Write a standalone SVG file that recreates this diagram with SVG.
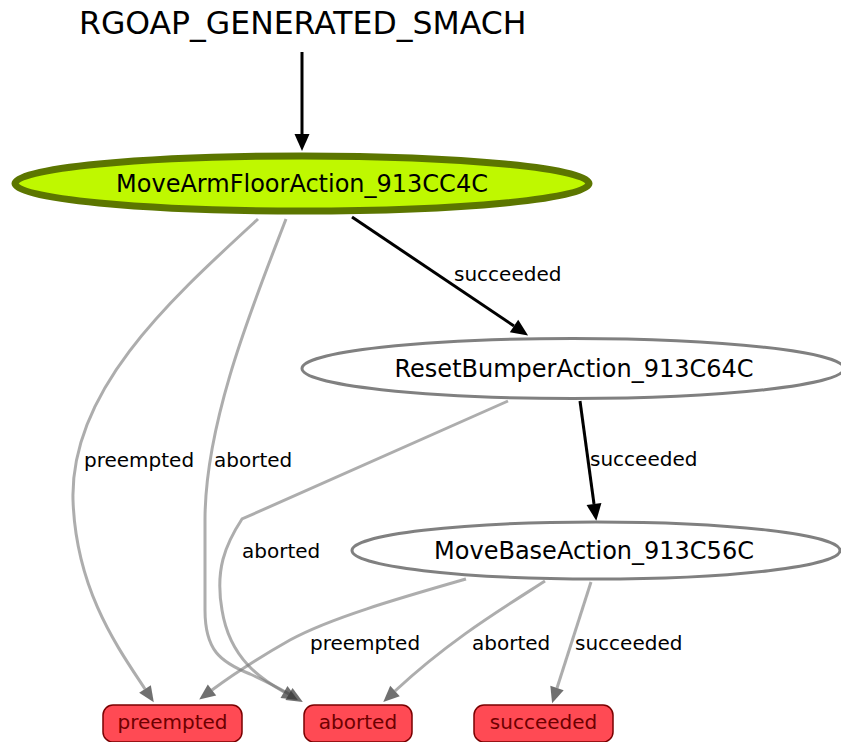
<svg xmlns="http://www.w3.org/2000/svg" width="841" height="742" viewBox="0 0 841 742">
  <style>
    text { font-family: "DejaVu Sans", "Liberation Sans", sans-serif; }
    .title { font-size: 31.5px; fill: #000; }
    .nlabel { font-size: 24px; fill: #000; text-anchor: middle; }
    .elabel { font-size: 20px; fill: #000; }
    .state { fill: #ffffff; stroke: #808080; stroke-width: 3; }
    .active { fill: #bff800; stroke: #5c7600; stroke-width: 7; }
    .outcome { fill: #ff4a54; stroke: #7a0000; stroke-width: 1.5; }
    .olabel { font-size: 20px; fill: #6e0000; text-anchor: middle; }
    .black { fill: none; stroke: #000; stroke-width: 3; marker-end: url(#headBlack); }
    .gray { fill: none; stroke: #777; stroke-opacity: 0.6; stroke-width: 3; marker-end: url(#headGray); }
  </style>
  <defs>
    <marker id="headBlack" markerUnits="userSpaceOnUse" markerWidth="20" markerHeight="20" refX="0" refY="8" orient="auto" overflow="visible">
      <path d="M0,0.5 L17,8 L0,15.5 Z" fill="#000"/>
    </marker>
    <marker id="headGray" markerUnits="userSpaceOnUse" markerWidth="18" markerHeight="18" refX="0" refY="7" orient="auto" overflow="visible">
      <path d="M0,0 L16,7 L0,14 Z" fill="#333" fill-opacity="0.7"/>
    </marker>
  </defs>

  <text class="title" x="79" y="34">RGOAP_GENERATED_SMACH</text>

  <g id="connectors">
    <path class="black" d="M302,52 L302,134"/>
    <path class="black" d="M352,217 L514,326"/>
    <path class="black" d="M580,401 L594,504"/>
    <path class="gray" d="M258,219 C170,300 70,390 73,500 C76,590 118,648 145,689"/>
    <path class="gray" d="M286,219 C255,300 205,420 205,520 L205,610 C205,650 220,662 250,674 C265,681 277,687 289,694"/>
    <path class="gray" d="M508,401 L242,519 C225,545 215,570 222,610 C230,660 263,680 284,692"/>
    <path class="gray" d="M466,579 C400,598 330,618 290,640 C260,657 232,675 212,690"/>
    <path class="gray" d="M545,581 C500,610 450,640 395,691"/>
    <path class="gray" d="M591,582 L557,688"/>

    <text class="elabel" x="454" y="281">succeeded</text>
    <text class="elabel" x="590" y="466">succeeded</text>
    <text class="elabel" x="84" y="467">preempted</text>
    <text class="elabel" x="214" y="467">aborted</text>
    <text class="elabel" x="242" y="558">aborted</text>
    <text class="elabel" x="310" y="650">preempted</text>
    <text class="elabel" x="472" y="650">aborted</text>
    <text class="elabel" x="575" y="650">succeeded</text>
  </g>

  <g id="MoveArmFloorAction_913CC4C">
    <ellipse class="active" cx="302" cy="183.5" rx="287" ry="27.5"/>
    <text class="nlabel" x="302" y="192">MoveArmFloorAction_913CC4C</text>
  </g>

  <g id="ResetBumperAction_913C64C">
    <ellipse class="state" cx="573" cy="368.5" rx="271" ry="30"/>
    <text class="nlabel" x="574" y="377">ResetBumperAction_913C64C</text>
  </g>

  <g id="MoveBaseAction_913C56C">
    <ellipse class="state" cx="596" cy="550.5" rx="244" ry="28.5"/>
    <text class="nlabel" x="594" y="559">MoveBaseAction_913C56C</text>
  </g>

  <g id="preempted">
    <rect class="outcome" x="103" y="705" width="139" height="37" rx="10"/>
    <text class="olabel" x="172.5" y="729">preempted</text>
  </g>

  <g id="aborted">
    <rect class="outcome" x="304" y="705" width="108" height="37" rx="10"/>
    <text class="olabel" x="358" y="729">aborted</text>
  </g>

  <g id="succeeded">
    <rect class="outcome" x="474" y="705" width="139" height="37" rx="10"/>
    <text class="olabel" x="543.5" y="729">succeeded</text>
  </g>
</svg>
